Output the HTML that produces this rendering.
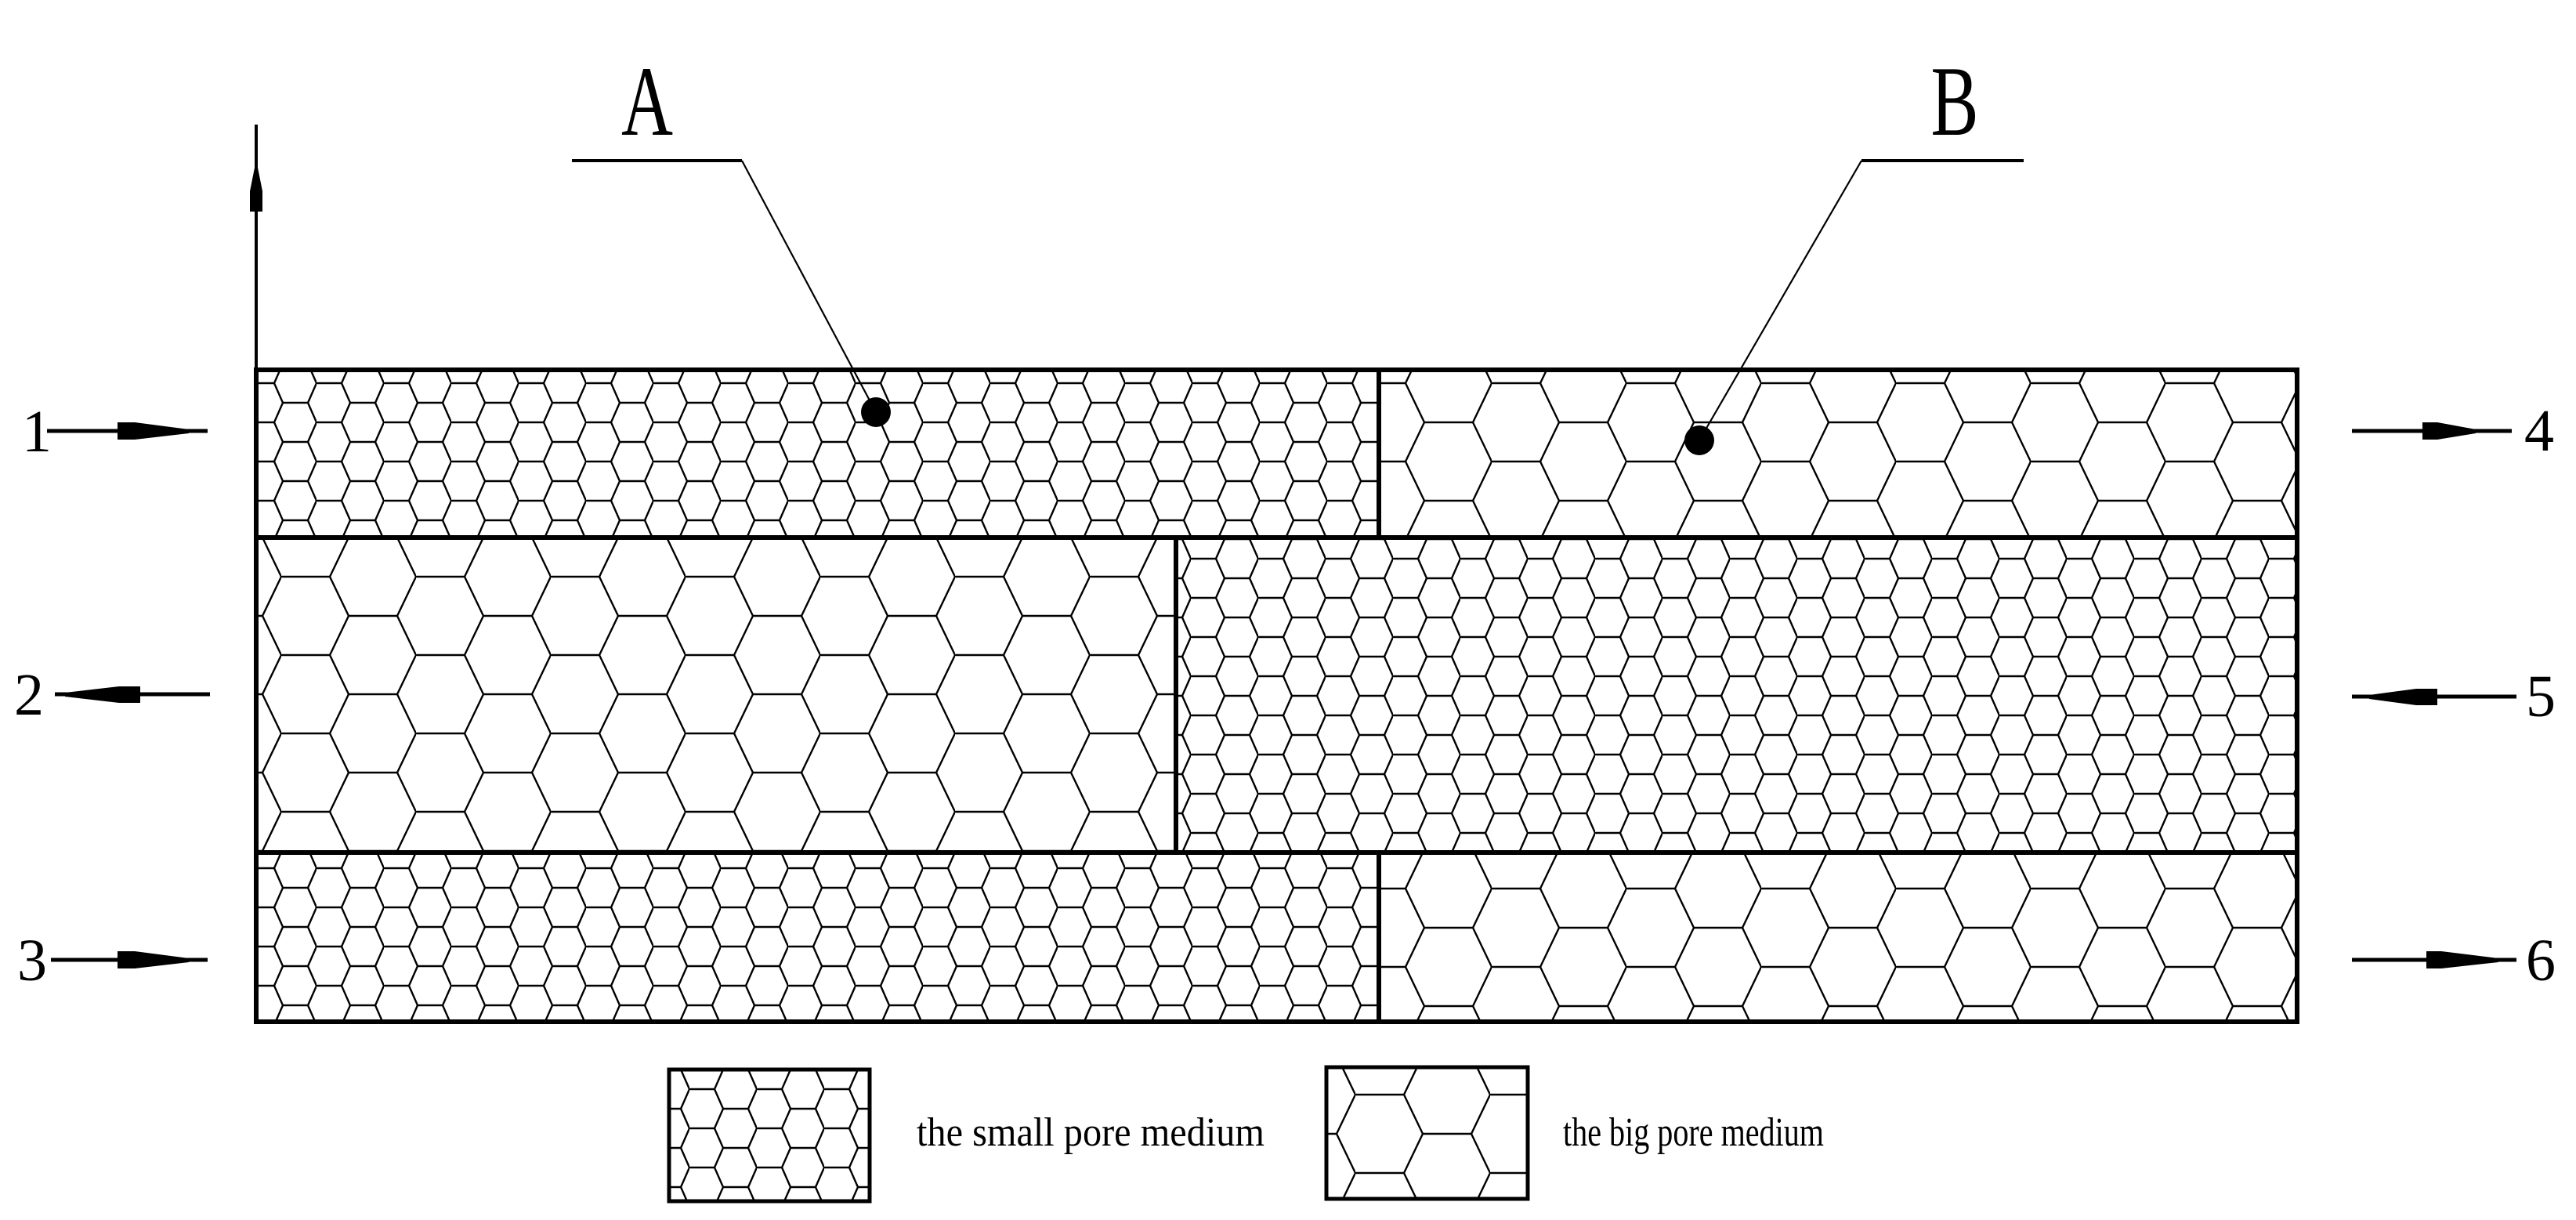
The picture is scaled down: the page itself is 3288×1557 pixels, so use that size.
<!DOCTYPE html>
<html><head><meta charset="utf-8"><style>html,body{margin:0;padding:0;background:#fff}svg{display:block}</style></head>
<body>
<svg width="3288" height="1557" viewBox="0 0 3288 1557" xmlns="http://www.w3.org/2000/svg">
<defs>
<pattern id="s1" patternUnits="userSpaceOnUse" x="404" y="489" width="86" height="50"><path d="M0,0 H32 L43,25 L32,50 H0 M43,25 H75 L86,0 M75,25 L86,50" fill="none" stroke="#000" stroke-width="2.4"/></pattern>
<pattern id="s2" patternUnits="userSpaceOnUse" x="1778" y="713" width="86" height="50"><path d="M0,0 H32 L43,25 L32,50 H0 M43,25 H75 L86,0 M75,25 L86,50" fill="none" stroke="#000" stroke-width="2.4"/></pattern>
<pattern id="s3" patternUnits="userSpaceOnUse" x="404" y="1108" width="86" height="50"><path d="M0,0 H32 L43,25 L32,50 H0 M43,25 H75 L86,0 M75,25 L86,50" fill="none" stroke="#000" stroke-width="2.4"/></pattern>
<pattern id="sL" patternUnits="userSpaceOnUse" x="880" y="1390" width="86" height="50"><path d="M0,0 H32 L43,25 L32,50 H0 M43,25 H75 L86,0 M75,25 L86,50" fill="none" stroke="#000" stroke-width="2.4"/></pattern>
<pattern id="b1" patternUnits="userSpaceOnUse" x="2764" y="489" width="172" height="100"><path d="M0,0 H62 L86,50 L62,100 H0 M86,50 H148 L172,0 M148,50 L172,100" fill="none" stroke="#000" stroke-width="2.4"/></pattern>
<pattern id="b2" patternUnits="userSpaceOnUse" x="359" y="736" width="172" height="100"><path d="M0,0 H62 L86,50 L62,100 H0 M86,50 H148 L172,0 M148,50 L172,100" fill="none" stroke="#000" stroke-width="2.4"/></pattern>
<pattern id="b3" patternUnits="userSpaceOnUse" x="2764" y="1134" width="172" height="100"><path d="M0,0 H62 L86,50 L62,100 H0 M86,50 H148 L172,0 M148,50 L172,100" fill="none" stroke="#000" stroke-width="2.4"/></pattern>
<pattern id="bL" patternUnits="userSpaceOnUse" x="1730" y="1397" width="172" height="100"><path d="M0,0 H62 L86,50 L62,100 H0 M86,50 H148 L172,0 M148,50 L172,100" fill="none" stroke="#000" stroke-width="2.4"/></pattern>
</defs>

<rect x="327" y="472" width="1433" height="214" fill="url(#s1)"/>
<rect x="1760" y="472" width="1172" height="214" fill="url(#b1)"/>
<rect x="327" y="686" width="1174" height="402" fill="url(#b2)"/>
<rect x="1501" y="686" width="1431" height="402" fill="url(#s2)"/>
<rect x="327" y="1088" width="1433" height="216" fill="url(#s3)"/>
<rect x="1760" y="1088" width="1172" height="216" fill="url(#b3)"/>

<g stroke="#000" stroke-width="6" fill="none">
<rect x="327" y="472" width="2605" height="832"/>
<line x1="327" y1="686" x2="2932" y2="686"/>
<line x1="327" y1="1088" x2="2932" y2="1088"/>
<line x1="1760" y1="472" x2="1760" y2="686"/>
<line x1="1501" y1="686" x2="1501" y2="1088"/>
<line x1="1760" y1="1088" x2="1760" y2="1304"/>
</g>

<line x1="327" y1="159" x2="327" y2="472" stroke="#000" stroke-width="4"/>
<polygon points="319,244 335,244 335,270 319,270" fill="#000"/>
<polygon points="319,244 335,244 329,214 325,214" fill="#000"/>

<g stroke="#000" fill="none">
<line x1="730" y1="205" x2="947" y2="205" stroke-width="4"/>
<line x1="947" y1="205" x2="1118" y2="526" stroke-width="2.2"/>
<line x1="2376" y1="205" x2="2583" y2="205" stroke-width="4"/>
<line x1="2376" y1="205" x2="2169" y2="562" stroke-width="2.2"/>
</g>
<circle cx="1118" cy="526" r="19" fill="#000"/>
<circle cx="2169" cy="562" r="19" fill="#000"/>

<text x="0" y="172" font-family="Liberation Serif, serif" font-size="127" transform="translate(826,0) scale(0.72,1)" text-anchor="middle">A</text>
<text x="0" y="172" font-family="Liberation Serif, serif" font-size="127" transform="translate(2495,0) scale(0.72,1)" text-anchor="middle">B</text>

<g fill="#000" stroke="#000">
<line x1="60" y1="550" x2="265" y2="550" stroke-width="5"/>
<rect x="150" y="539" width="22" height="22" stroke="none"/>
<polygon points="172,539 241,548 241,553 172,561" stroke="none"/>

<line x1="70" y1="886" x2="268" y2="886" stroke-width="5"/>
<rect x="152" y="876" width="27" height="21" stroke="none"/>
<polygon points="152,876 83,884 83,889 152,897" stroke="none"/>

<line x1="65" y1="1225" x2="265" y2="1225" stroke-width="5"/>
<rect x="150" y="1214" width="22" height="22" stroke="none"/>
<polygon points="172,1214 241,1223 241,1228 172,1236" stroke="none"/>

<line x1="3002" y1="550" x2="3206" y2="550" stroke-width="5"/>
<rect x="3092" y="539" width="19" height="22" stroke="none"/>
<polygon points="3111,539 3160,548 3160,553 3111,561" stroke="none"/>

<line x1="3002" y1="889" x2="3212" y2="889" stroke-width="5"/>
<rect x="3084" y="879" width="27" height="21" stroke="none"/>
<polygon points="3084,879 3024,887 3024,892 3084,900" stroke="none"/>

<line x1="3002" y1="1225" x2="3212" y2="1225" stroke-width="5"/>
<rect x="3097" y="1214" width="19" height="22" stroke="none"/>
<polygon points="3116,1214 3189,1223 3189,1228 3116,1236" stroke="none"/>
</g>

<g font-family="Liberation Serif, serif" font-size="76" fill="#000">
<text x="28" y="576">1</text>
<text x="18" y="912">2</text>
<text x="22" y="1251">3</text>
<text x="3222" y="575">4</text>
<text x="3224" y="914">5</text>
<text x="3224" y="1251">6</text>
</g>

<rect x="854" y="1365" width="256" height="168" fill="url(#sL)" stroke="#000" stroke-width="5"/>
<rect x="1693" y="1362" width="257" height="168" fill="url(#bL)" stroke="#000" stroke-width="5"/>
<g font-family="Liberation Serif, serif" font-size="52" fill="#000">
<text x="1170" y="1462" textLength="444" lengthAdjust="spacingAndGlyphs">the small pore medium</text>
<text x="1995" y="1462" textLength="333" lengthAdjust="spacingAndGlyphs">the big pore medium</text>
</g>
</svg>
</body></html>
